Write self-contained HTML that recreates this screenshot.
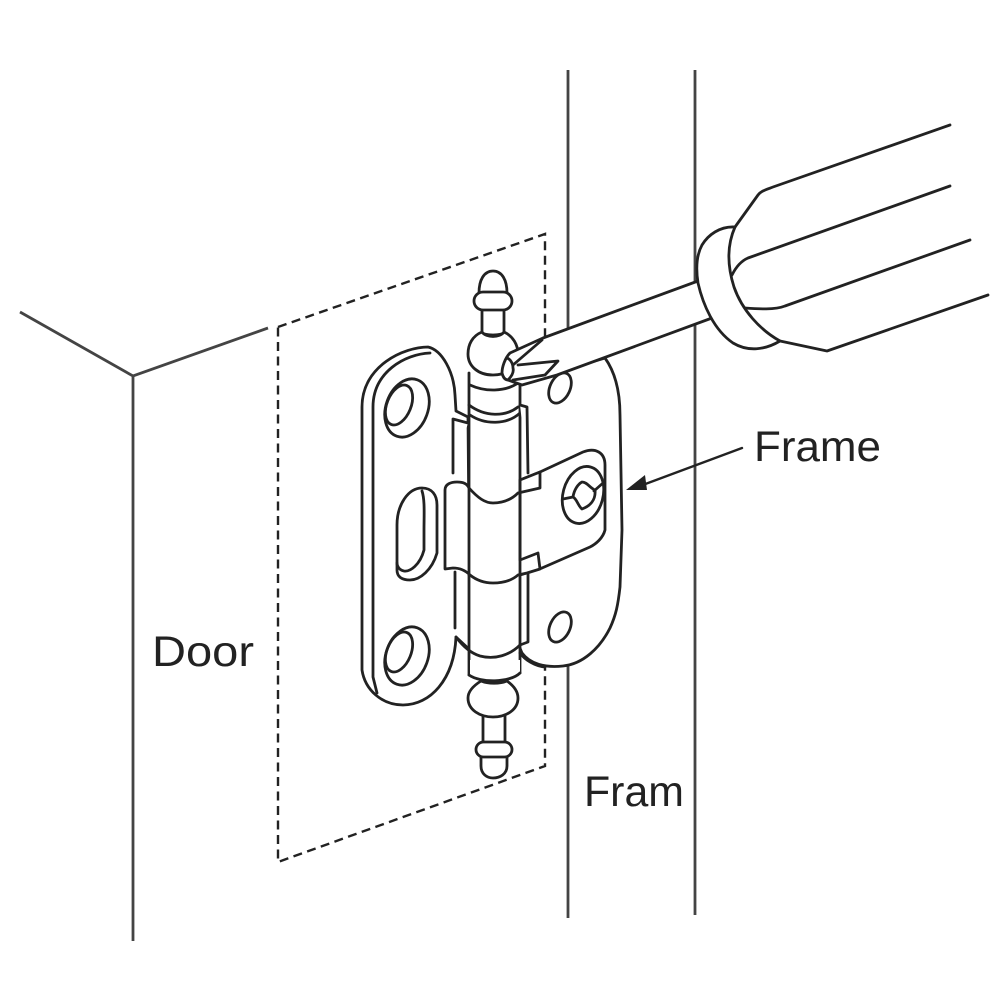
<!DOCTYPE html>
<html>
<head>
<meta charset="utf-8">
<style>
html,body{margin:0;padding:0;background:#fff;width:1000px;height:1000px;overflow:hidden}
svg{display:block}
.l{fill:none;stroke:#222;stroke-width:2.8;stroke-linecap:round;stroke-linejoin:round}
.w{fill:#fff;stroke:#222;stroke-width:2.8;stroke-linecap:round;stroke-linejoin:round}
.n{fill:#fff;stroke:none}
.f{fill:none;stroke:#444;stroke-width:2.8}
.d{fill:none;stroke:#222;stroke-width:2.4;stroke-dasharray:9 5.5}
text{font-family:"Liberation Sans",sans-serif;font-size:43px;fill:#222}
</style>
</head>
<body>
<svg width="1000" height="1000" viewBox="0 0 1000 1000" xmlns="http://www.w3.org/2000/svg">
<!-- door -->
<path class="f" d="M20,312 L133,376 L268,328 M133,376 V941"/>
<!-- frame -->
<path class="f" d="M568,70 V918 M695,70 V915"/>
<!-- dashed door outline -->
<path class="d" d="M278,327 L545,234 V766 L278,862 Z"/>

<!-- right plate -->
<path class="w" d="M520,383 L605,358 C615,372 620,390 620,415 L622,530 L620,587 C618,605 616,615 610,628 C600,648 583,664 563,666 C545,668 530,664 522,653 L500,600 Z"/>
<ellipse class="w" cx="560" cy="388" rx="10" ry="16" transform="rotate(25 560 388)"/>
<ellipse class="w" cx="560" cy="627" rx="10" ry="16" transform="rotate(25 560 627)"/>

<!-- left plate -->
<path class="w" d="M468,417 L456,411 L455,395 C454,372 442,350 428,347 C405,347 362,365 362,407 L362,670 C365,690 382,705 403,705 C430,705 454,680 456,637 L470,650 L468,417 Z"/>
<path class="l" d="M430,353 C405,354 373,372 373,407 L373,677 L377,693"/>
<ellipse class="w" cx="407" cy="408" rx="21" ry="30" transform="rotate(20 407 408)"/>
<ellipse class="l" cx="399" cy="405" rx="12" ry="21" transform="rotate(22 399 405)"/>
<ellipse class="w" cx="407" cy="656" rx="21" ry="30" transform="rotate(20 407 656)"/>
<ellipse class="l" cx="399" cy="652" rx="12" ry="21" transform="rotate(22 399 652)"/>
<!-- slot -->
<path class="w" d="M397,570 V525 C397,505 408,488 422,488 C432,488 437,495 437,505 L437,553 C432,570 420,580 410,580 C402,580 397,577 397,570 Z"/>
<path class="l" d="M422,491 C425,500 424,515 424,530 L424,550 C420,565 410,572 404,571 C399,570 397,566 397,563"/>

<!-- arm -->
<path class="w" d="M520,480 L540,472 L583,452 C596,447 605,453 605,465 L605,530 C603,538 596,544 590,547 L542,568 L520,575 Z"/>
<ellipse class="l" cx="583" cy="495" rx="20" ry="29" transform="rotate(15 583 495)"/>
<path class="l" d="M582,482 C587,482 590,488 595,490 C596,500 590,506 582,509 C578,506 577,499 573,497 C574,490 578,484 582,482 Z"/>
<path class="l" d="M563,499 L573,497 M594,491 L603,483"/>

<!-- pin barrel -->
<path class="n" d="M469,373 L470,675 L520,673 L520,383 Z"/>
<path class="l" d="M469,373 V675 M520,383 V673"/>
<path class="l" d="M470,385 C485,392 505,392 518,383 M469,405 C485,417 505,417 518,407 M470,415 C485,425 507,425 520,413"/>
<!-- knuckle tabs -->
<path class="w" d="M453,473 L453,419 L468,423 M520,405 L527,407 L528,473"/>
<path class="l" d="M455,572 V628 M528,573 V642 L520,645"/>
<path class="w" d="M445,569 V490 C445,484 451,482 457,482 C464,482 467,484 469,488 C478,498 485,503 493,503 C505,503 513,498 518,493 L540,488 L540,472 L520,480 L520,560 L538,553 L540,569 L527,573 L518,575 C510,582 500,583 493,583 C482,583 475,579 470,575 C465,570 460,568 453,568 Z"/>
<path class="l" d="M469,488 V575 M520,480 V575"/>
<path class="l" d="M456,637 C462,645 470,653 480,656 C495,660 510,655 520,645"/>
<path class="l" d="M520,653 C525,660 535,666 545,667"/>

<!-- top finial -->
<path class="w" d="M482,308 V332 C482,336 504,336 504,332 V308 Z"/>
<path class="w" d="M482,332 C472,336 468,345 468,354 C468,366 478,375 493,375 C508,375 518,366 518,354 C518,345 513,336 504,332 C500,338 486,338 482,332 Z"/>
<path class="w" d="M479,293 C479,280 484,271 493,271 C502,271 507,280 507,293 Z"/>
<rect class="w" x="474" y="292" width="38" height="18" rx="9" ry="9"/>

<!-- bottom finial -->
<path class="w" d="M483,715 V745 H505 V715 Z"/>
<path class="w" d="M481,681 C473,686 468,692 468,698 C468,710 480,717 493,717 C506,717 518,710 518,698 C518,692 514,686 507,681 C500,684 488,684 481,681 Z"/>
<path class="n" d="M470,660 H520 V673 C510,683 480,683 470,675 Z"/>
<path class="l" d="M469,675 C480,683 510,683 520,673"/>
<path class="w" d="M481,755 V766 C481,774 487,778 493,778 C500,778 507,774 507,766 V755 Z"/>
<rect class="w" x="476" y="742" width="36" height="15" rx="7.5" ry="7.5"/>

<!-- screwdriver shaft -->
<path class="n" d="M700,281 L543,338 L510,353 C505,358 502,367 502,373 L508,380 L522,385 L557,375 L712,318 Z"/>
<path class="l" d="M698,281 L543,338 L510,353 C505,358 502,367 502,373 C503,377 505,380 508,380"/>
<path class="l" d="M712,318 L557,375 L522,385 L508,380 C512,376 514,372 513,368 C513,363 510,359 507,358"/>
<path class="l" d="M513,365 L542,340"/>
<path class="l" d="M518,365 L558,361 L545,375 L513,380"/>

<!-- handle -->
<path class="w" d="M735,227 C720,226 708,235 702,245 C696,256 696,270 698,283 C703,305 714,330 733,343 C748,352 765,350 780,341 C760,330 742,310 734,287 C727,265 727,245 735,227 Z"/>
<path class="l" d="M735,227 L758,195 C761,191 765,190 773,187 L950,125"/>
<path class="l" d="M732,275 C736,267 741,261 748,258 L950,186"/>
<path class="l" d="M745,308 C758,309 775,310 785,306 L970,240"/>
<path class="l" d="M780,341 L827,351 L988,295"/>

<!-- arrow -->
<path class="l" style="stroke-width:2.4" d="M742,448 L640,486"/>
<path d="M626,490 L645,475 L647,490 Z" fill="#222"/>

<!-- labels -->
<text x="754" y="461" textLength="127" lengthAdjust="spacingAndGlyphs">Frame</text>
<text x="152" y="666" textLength="102" lengthAdjust="spacingAndGlyphs">Door</text>
<text x="584" y="806" textLength="100" lengthAdjust="spacingAndGlyphs">Fram</text>
</svg>
</body>
</html>
